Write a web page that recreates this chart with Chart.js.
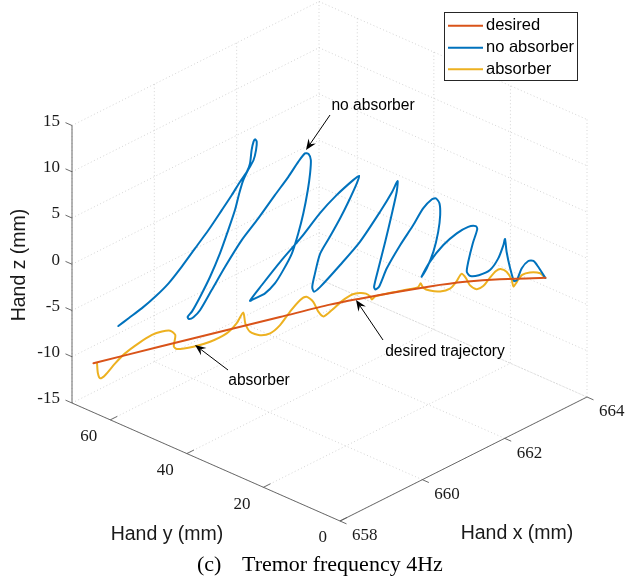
<!DOCTYPE html>
<html>
<head>
<meta charset="utf-8">
<script src="https://cdn.jsdelivr.net/npm/chart.js@4.4.1/dist/chart.umd.min.js"></script>
<style>
  html, body { margin: 0; padding: 0; background: #fff; }
  #wrap { width: 630px; height: 582px; }
</style>
</head>
<body>
<div id="wrap"><canvas id="tremor-chart" width="630" height="582"></canvas></div>
<script>
// hand position (mm)
const desiredX = [658.00, 658.89, 659.75, 660.48, 661.14, 661.54, 662.03, 662.47, 662.94, 663.40, 664.00];
const desiredY = [64.40, 56.52, 48.83, 42.33, 36.41, 32.86, 28.49, 24.59, 20.45, 16.31, 10.87];
const desiredZ = [-9.69, -8.42, -7.22, -6.21, -5.26, -4.86, -4.43, -4.11, -3.91, -3.89, -4.10];

const noAbsorberX = [
  658.33, 658.47, 658.64, 658.82, 659.00, 659.17, 659.35, 659.53, 659.71, 659.84,
  659.95, 660.04, 660.08, 660.10, 660.13, 660.15, 660.17, 660.16, 660.13, 660.06,
  659.99, 659.94, 659.88, 659.79, 659.68, 659.55, 659.42, 659.31, 659.25, 659.27,
  659.33, 659.42, 659.57, 659.75, 659.97, 660.19, 660.41, 660.59, 660.72, 660.81,
  660.86, 660.89, 660.88, 660.85, 660.79, 660.72, 660.64, 660.52, 660.41, 660.28,
  660.15, 660.08, 660.24, 660.50, 660.77, 661.01, 661.23, 661.45, 661.53, 661.50,
  661.39, 661.28, 661.14, 661.01, 660.94, 660.91, 660.93, 661.01, 661.28, 661.54,
  661.81, 661.97, 662.04, 662.03, 661.96, 661.88, 661.79, 661.73, 661.75, 661.80,
  661.90, 662.08, 662.25, 662.38, 662.50, 662.55, 662.60, 662.61, 662.58, 662.52,
  662.43, 662.36, 662.47, 662.65, 662.83, 662.98, 663.08, 663.10, 663.04, 662.98,
  662.96, 663.01, 663.12, 663.27, 663.38, 663.45, 663.47, 663.49, 663.54, 663.59,
  663.63, 663.69, 663.78, 663.85, 663.91, 664.00
];
const noAbsorberY = [
  61.45, 60.26, 58.68, 57.11, 55.53, 53.95, 52.38, 50.80, 49.22, 48.04,
  47.06, 46.26, 45.87, 45.67, 45.48, 45.28, 45.08, 45.16, 45.48, 46.07,
  46.66, 47.17, 47.65, 48.44, 49.42, 50.60, 51.79, 52.77, 53.24, 53.09,
  52.58, 51.79, 50.40, 48.83, 46.85, 44.89, 42.92, 41.34, 40.16, 39.37,
  38.98, 38.69, 38.78, 39.05, 39.57, 40.16, 40.94, 41.93, 42.92, 44.10,
  45.28, 45.87, 44.49, 42.12, 39.76, 37.59, 35.62, 33.66, 32.95, 33.25,
  34.25, 35.23, 36.41, 37.59, 38.19, 38.54, 38.30, 37.59, 35.23, 32.86,
  30.50, 29.08, 28.41, 28.52, 29.12, 29.91, 30.70, 31.21, 31.03, 30.62,
  29.71, 28.13, 26.56, 25.38, 24.38, 23.88, 23.49, 23.40, 23.60, 24.20,
  24.98, 25.57, 24.59, 23.01, 21.43, 20.06, 19.15, 18.99, 19.50, 20.06,
  20.21, 19.80, 18.79, 17.49, 16.51, 15.92, 15.72, 15.52, 15.13, 14.65,
  14.33, 13.74, 12.96, 12.37, 11.78, 10.87
];
const noAbsorberZ = [
  -5.86, -5.11, -4.14, -3.00, -1.66, 0.03, 1.91, 3.78, 5.84, 7.38,
  8.75, 9.77, 10.65, 12.08, 12.96, 13.21, 12.93, 12.04, 10.98, 10.02,
  8.90, 7.50, 5.73, 3.62, 1.17, -1.28, -3.36, -4.91, -5.42, -5.68,
  -5.53, -4.80, -2.73, -0.32, 2.43, 4.64, 7.02, 8.89, 10.43, 11.29,
  11.19, 10.52, 9.08, 7.30, 4.82, 2.69, 0.58, -1.15, -2.52, -3.52,
  -3.98, -4.20, -2.60, -0.06, 2.30, 4.71, 6.52, 8.01, 8.42, 7.62,
  5.70, 3.98, 2.07, 0.28, -1.84, -3.22, -3.73, -3.29, -1.07, 1.28,
  4.36, 6.40, 7.54, 6.39, 3.91, 1.08, -1.74, -3.70, -4.01, -3.71,
  -1.81, 0.60, 2.66, 4.38, 5.28, 5.36, 4.79, 3.52, 1.73, -0.39,
  -2.14, -3.00, -1.45, 0.25, 1.40, 2.02, 2.04, 1.70, 0.22, -1.79,
  -2.83, -3.32, -3.29, -2.83, -1.64, -0.24, 0.40, -0.99, -2.81, -4.22,
  -4.13, -2.91, -2.17, -2.21, -2.87, -4.12
];

const absorberX = [
  658.05, 658.06, 658.09, 658.16, 658.29, 658.42, 658.60, 658.78, 658.91, 659.02,
  659.09, 659.07, 659.11, 659.33, 659.55, 659.77, 659.90, 659.99, 660.02, 660.08,
  660.21, 660.35, 660.48, 660.61, 660.75, 660.83, 660.92, 660.99, 661.06, 661.17,
  661.30, 661.44, 661.54, 661.62, 661.68, 661.70, 661.74, 661.88, 662.03, 662.21,
  662.31, 662.35, 662.38, 662.47, 662.61, 662.74, 662.82, 662.89, 662.95, 663.00,
  663.09, 663.18, 663.27, 663.35, 663.41, 663.49, 663.56, 663.58, 663.63, 663.70,
  663.80, 663.94, 664.00
];
const absorberY = [
  64.00, 63.88, 63.61, 63.02, 61.84, 60.65, 59.08, 57.50, 56.28, 55.33,
  54.74, 54.92, 54.54, 52.58, 50.60, 48.63, 47.45, 46.66, 46.46, 45.87,
  44.69, 43.51, 42.32, 41.14, 39.96, 39.17, 38.39, 37.80, 37.20, 36.18,
  34.99, 33.81, 32.86, 32.15, 31.68, 31.45, 31.09, 29.91, 28.49, 26.95,
  26.00, 25.69, 25.38, 24.59, 23.40, 22.22, 21.51, 20.84, 20.33, 19.86,
  19.06, 18.28, 17.49, 16.78, 16.25, 15.52, 14.92, 14.71, 14.30, 13.71,
  12.76, 11.58, 10.87
];
const absorberZ = [
  -9.72, -10.81, -11.37, -11.05, -9.87, -8.87, -7.90, -7.11, -6.81, -6.79,
  -7.30, -8.53, -8.83, -8.71, -8.31, -7.54, -6.54, -5.40, -6.60, -7.55,
  -7.99, -7.89, -7.07, -5.71, -4.53, -4.23, -4.82, -5.94, -6.50, -5.87,
  -4.98, -4.36, -4.24, -4.37, -4.72, -5.06, -4.76, -4.57, -4.40, -4.24,
  -4.11, -3.71, -4.18, -4.56, -4.75, -4.51, -3.86, -3.00, -3.50, -4.29,
  -4.78, -4.51, -3.65, -2.99, -2.81, -3.15, -4.09, -4.81, -4.30, -3.63,
  -3.41, -3.60, -4.12
];

const xTicks = [658, 660, 662, 664];
const yTicks = [0, 20, 40, 60];
const zTicks = [-15, -10, -5, 0, 5, 10, 15];
const xRange = [658, 664];
const yRange = [0, 70];
const zRange = [-15, 15];

// view of the box: where the front-bottom corner lands and where each axis runs to
const boxOrigin = [340, 521];
const xEdge = [247, -124];
const yEdge = [-268, -118];
const zEdge = [0, -277.5];

function project(x, y, z) {
  const u = (x - xRange[0]) / (xRange[1] - xRange[0]);
  const v = (y - yRange[0]) / (yRange[1] - yRange[0]);
  const w = (z - zRange[0]) / (zRange[1] - zRange[0]);
  return {
    x: boxOrigin[0] + u * xEdge[0] + v * yEdge[0] + w * zEdge[0],
    y: boxOrigin[1] + u * xEdge[1] + v * yEdge[1] + w * zEdge[1],
  };
}

function toPoints(xs, ys, zs) {
  return xs.map((x, i) => project(x, ys[i], zs[i]));
}

const SANS = '"Liberation Sans", Arial, sans-serif';
const SERIF = '"Liberation Serif", "Times New Roman", serif';

const box3d = {
  id: "box3d",
  beforeDatasetsDraw(chart) {
    const ctx = chart.ctx;
    const sx = chart.scales.x, sy = chart.scales.y;
    const pix = (p) => [sx.getPixelForValue(p.x), sy.getPixelForValue(p.y)];
    const seg = (a, b) => {
      const p = pix(a), q = pix(b);
      ctx.moveTo(p[0], p[1]);
      ctx.lineTo(q[0], q[1]);
    };
    const [x0, x1] = xRange, [y0, y1] = yRange, [z0, z1] = zRange;

    ctx.save();
    // dotted grid on the two back walls and the floor
    ctx.strokeStyle = "rgba(38,38,38,0.2)";
    ctx.lineWidth = 1;
    ctx.setLineDash([1, 2.5]);
    ctx.beginPath();
    zTicks.forEach((z) => {
      seg(project(x0, y1, z), project(x1, y1, z));
      seg(project(x1, y1, z), project(x1, y0, z));
    });
    xTicks.forEach((x) => {
      seg(project(x, y0, z0), project(x, y1, z0));
      seg(project(x, y1, z0), project(x, y1, z1));
    });
    yTicks.forEach((y) => {
      seg(project(x0, y, z0), project(x1, y, z0));
      seg(project(x1, y, z0), project(x1, y, z1));
    });
    ctx.stroke();

    // axis lines and ticks
    ctx.setLineDash([]);
    ctx.strokeStyle = "#5a5a5a";
    ctx.lineWidth = 0.9;
    ctx.beginPath();
    seg(project(x0, y1, z0), project(x0, y1, z1));
    seg(project(x0, y0, z0), project(x0, y1, z0));
    seg(project(x0, y0, z0), project(x1, y0, z0));
    zTicks.forEach((z) => seg(project(x0, y1, z), project(x0, y1 + 1.7, z)));
    yTicks.forEach((y) => seg(project(x0, y, z0), project(x0 + 0.17, y, z0)));
    xTicks.forEach((x) => seg(project(x, y0, z0), project(x, y0 - 1.7, z0)));
    ctx.stroke();

    // tick labels
    ctx.fillStyle = "#1a1a1a";
    ctx.font = "17px " + SERIF;
    ctx.textBaseline = "middle";
    ctx.textAlign = "right";
    zTicks.forEach((z) => {
      const p = pix(project(x0, y1, z));
      ctx.fillText(String(z), p[0] - 12, p[1] - 4);
    });
    yTicks.forEach((y) => {
      const p = pix(project(x0, y, z0));
      ctx.fillText(String(y), p[0] - 13, p[1] + 17);
    });
    ctx.textAlign = "left";
    xTicks.forEach((x) => {
      const p = pix(project(x, y0, z0));
      ctx.fillText(String(x), p[0] + 12, p[1] + 15);
    });

    // axis titles
    ctx.font = "19.5px " + SANS;
    ctx.textAlign = "center";
    ctx.fillText("Hand x (mm)", 517, 534);
    ctx.fillText("Hand y (mm)", 167, 535);
    ctx.save();
    ctx.translate(20, 265);
    ctx.rotate(-Math.PI / 2);
    ctx.fillText("Hand z (mm)", 0, 0);
    ctx.restore();

    // caption
    ctx.fillStyle = "#000";
    ctx.font = "22px " + SERIF;
    ctx.textAlign = "left";
    ctx.fillText("(c)", 197, 565);
    ctx.fillText("Tremor frequency 4Hz", 242, 565);
    ctx.restore();
  },
};

function arrow(ctx, fromX, fromY, toX, toY) {
  const ang = Math.atan2(toY - fromY, toX - fromX);
  const len = 11, half = 4.5, notch = 7;
  ctx.beginPath();
  ctx.moveTo(fromX, fromY);
  ctx.lineTo(toX - Math.cos(ang) * notch, toY - Math.sin(ang) * notch);
  ctx.stroke();
  ctx.beginPath();
  ctx.moveTo(toX, toY);
  ctx.lineTo(toX - Math.cos(ang) * len - Math.sin(ang) * half, toY - Math.sin(ang) * len + Math.cos(ang) * half);
  ctx.lineTo(toX - Math.cos(ang) * notch, toY - Math.sin(ang) * notch);
  ctx.lineTo(toX - Math.cos(ang) * len + Math.sin(ang) * half, toY - Math.sin(ang) * len - Math.cos(ang) * half);
  ctx.closePath();
  ctx.fill();
}

const notes = {
  id: "notes",
  afterDraw(chart) {
    const ctx = chart.ctx;
    ctx.save();
    ctx.strokeStyle = "#000";
    ctx.fillStyle = "#000";
    ctx.lineWidth = 1;
    arrow(ctx, 330, 115, 306, 150);
    arrow(ctx, 383, 340, 356, 300);
    arrow(ctx, 228, 370, 195, 345);
    ctx.font = "15.6px " + SANS;
    ctx.textAlign = "center";
    ctx.textBaseline = "middle";
    ctx.fillText("no absorber", 373, 106);
    ctx.fillText("desired trajectory", 445, 352);
    ctx.fillText("absorber", 259, 381);

    // legend box
    const bx = 444.5, by = 12.5, bw = 133, bh = 68;
    ctx.fillStyle = "#fff";
    ctx.fillRect(bx, by, bw, bh);
    ctx.strokeStyle = "#262626";
    ctx.lineWidth = 1;
    ctx.strokeRect(bx, by, bw, bh);
    const rows = [25.7, 47.7, 69.3];
    ctx.font = "16.5px " + SANS;
    ctx.textAlign = "left";
    chart.data.datasets.forEach((ds, i) => {
      ctx.strokeStyle = ds.borderColor;
      ctx.lineWidth = 2;
      ctx.beginPath();
      ctx.moveTo(448, rows[i]);
      ctx.lineTo(483, rows[i]);
      ctx.stroke();
      ctx.fillStyle = "#000";
      ctx.fillText(ds.label, 486, rows[i]);
    });
    ctx.restore();
  },
};

const lineStyle = {
  showLine: true,
  pointRadius: 0,
  borderWidth: 2,
  tension: 0.25,
  fill: false,
  borderJoinStyle: "round",
  borderCapStyle: "round",
};

new Chart(document.getElementById("tremor-chart"), {
  type: "scatter",
  data: {
    datasets: [
      { ...lineStyle, label: "desired", order: 0, borderColor: "#D95319", data: toPoints(desiredX, desiredY, desiredZ) },
      { ...lineStyle, label: "no absorber", order: 1, borderColor: "#0072BD", data: toPoints(noAbsorberX, noAbsorberY, noAbsorberZ) },
      { ...lineStyle, label: "absorber", order: 2, borderColor: "#EDB120", data: toPoints(absorberX, absorberY, absorberZ) },
    ],
  },
  options: {
    responsive: false,
    devicePixelRatio: 1,
    animation: false,
    events: [],
    layout: { padding: 0 },
    plugins: {
      legend: { display: false },
      tooltip: { enabled: false },
    },
    scales: {
      x: { type: "linear", min: 0, max: 630, display: false },
      y: { type: "linear", min: 0, max: 582, reverse: true, display: false },
    },
  },
  plugins: [box3d, notes],
});
</script>
</body>
</html>
